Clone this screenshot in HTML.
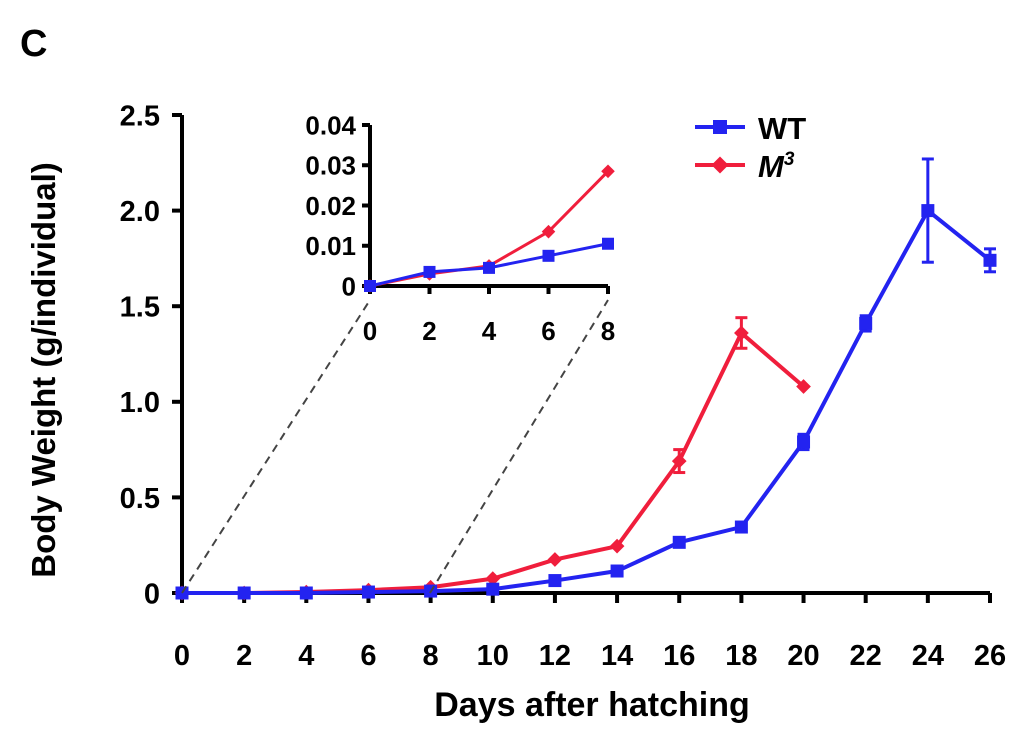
<!DOCTYPE html>
<html><head><meta charset="utf-8"><style>
body{margin:0;background:#fff;}
svg{display:block;font-family:"Liberation Sans",Arial,sans-serif;font-weight:bold;}
</style></head><body>
<svg id="chart" width="1024" height="734" viewBox="0 0 1024 734">
<text x="20" y="56" font-size="38">C</text>
<g id="main"></g>
<g id="inset"></g>
<text x="592" y="716" font-size="34" text-anchor="middle">Days after hatching</text>
<text transform="translate(55,370) rotate(-90)" font-size="33" text-anchor="middle">Body Weight (g/individual)</text>
<g>
<g>
<line x1="695" y1="127" x2="745" y2="127" stroke="#2323f0" stroke-width="4"/>
<rect x="713" y="120" width="14" height="14" fill="#2323f0"/>
<text x="758" y="139" font-size="31">WT</text></g>
<g>
<line x1="695" y1="165" x2="745" y2="165" stroke="#f01e3c" stroke-width="4"/>
<rect x="714" y="159" width="12" height="12" fill="#f01e3c" transform="rotate(45 720 165)"/>
<text x="758" y="177" font-size="31" font-style="italic">M<tspan font-size="19" dy="-12">3</tspan></text></g>
</g>
<line x1="182" y1="593" x2="370" y2="300" stroke="#444" stroke-width="2" stroke-dasharray="8,6"/>
<line x1="430" y1="593" x2="608" y2="300" stroke="#444" stroke-width="2" stroke-dasharray="8,6"/>
</svg>
<script>
const days=[0,2,4,6,8,10,12,14,16,18,20,22,24,26];
const wt=[0,0,0,0.005,0.01,0.02,0.065,0.115,0.265,0.345,0.79,1.41,2.0,1.74];
const wtErr=[0,0,0,0,0,0,0,0,0.02,0.02,0.04,0.04,0.27,0.06];
const m3=[0,0,0.005,0.015,0.03,0.075,0.175,0.245,0.69,1.36,1.08];
const m3Err=[0,0,0,0,0,0,0,0,0.06,0.08,0];
const yTicks=[0,0.5,1.0,1.5,2.0,2.5];
const yTickLabels=["0","0.5","1.0","1.5","2.0","2.5"];
const xTicks=[0,2,4,6,8,10,12,14,16,18,20,22,24,26];
const insetDays=[0,2,4,6,8];
const insetWt=[0,0.0035,0.0045,0.0075,0.0105];
const insetM3=[0,0.003,0.005,0.0135,0.0285];
const insetYTicks=[0,0.01,0.02,0.03,0.04];
const insetYLabels=["0","0.01","0.02","0.03","0.04"];
const NS="http://www.w3.org/2000/svg";
function mk(p,t,a){const e=document.createElementNS(NS,t);for(const k in a)e.setAttribute(k,a[k]);p.appendChild(e);return e;}
function plot(g,o){
  const X=v=>o.x0+(v-o.xmin)/(o.xmax-o.xmin)*(o.x1-o.x0);
  const Y=v=>o.y0-(v-o.ymin)/(o.ymax-o.ymin)*(o.y0-o.y1);
  let e=mk(g,'line',{x1:o.x0,y1:o.y0,x2:o.x0,y2:o.y1,stroke:'#000','stroke-width':o.aw});
  
  e=mk(g,'line',{x1:o.x0,y1:o.y0,x2:o.x1,y2:o.y0,stroke:'#000','stroke-width':o.aw});
  
  o.yt.forEach((v,i)=>{
    mk(g,'line',{x1:o.x0-o.tl,y1:Y(v),x2:o.x0,y2:Y(v),stroke:'#000','stroke-width':o.aw});
    const t=mk(g,'text',{x:o.x0-o.tl-o.ylg,y:Y(v)+o.fs*0.36,'font-size':o.fs,'text-anchor':'end'});t.textContent=o.yl[i];
    
    
  });
  o.xt.forEach(v=>{
    mk(g,'line',{x1:X(v),y1:o.y0,x2:X(v),y2:o.y0+o.tl,stroke:'#000','stroke-width':o.aw});
    const t=mk(g,'text',{x:X(v),y:o.y0+o.xoff,'font-size':o.fs,'text-anchor':'middle'});t.textContent=String(v);
    
    
  });
  o.series.forEach(s=>{
    const pts=s.y.map((v,i)=>X(o.xs[i])+','+Y(v)).join(' ');
    const l=mk(g,'polyline',{points:pts,fill:'none',stroke:s.c,'stroke-width':o.lw});
    
    
    s.y.forEach((v,i)=>{
      const cx=X(o.xs[i]),cy=Y(v),err=s.e?s.e[i]:0;
      if(err>0){mk(g,'line',{x1:cx,y1:Y(v-err),x2:cx,y2:Y(v+err),stroke:s.c,'stroke-width':3});
        mk(g,'line',{x1:cx-6,y1:Y(v-err),x2:cx+6,y2:Y(v-err),stroke:s.c,'stroke-width':3});
        mk(g,'line',{x1:cx-6,y1:Y(v+err),x2:cx+6,y2:Y(v+err),stroke:s.c,'stroke-width':3});}
      const m=s.sq?mk(g,'rect',{x:cx-o.ms/2,y:cy-o.ms/2,width:o.ms,height:o.ms,fill:s.c})
        :mk(g,'rect',{x:cx-o.ms*0.4,y:cy-o.ms*0.4,width:o.ms*0.8,height:o.ms*0.8,fill:s.c,transform:`rotate(45 ${cx} ${cy})`});
      
      
    });
  });
}
plot(document.getElementById('main'),{x0:182,x1:990,y0:593,y1:115,xmin:0,xmax:26,ymin:0,ymax:2.5,
  yt:yTicks,yl:yTickLabels,xt:xTicks,fs:29,tl:10,ylg:12,xoff:72,aw:4,lw:4,ms:13,xs:days,
  series:[{y:m3,e:m3Err,c:'#f01e3c',n:'m3',sq:false},{y:wt,e:wtErr,c:'#2323f0',n:'wt',sq:true}]});
plot(document.getElementById('inset'),{x0:370,x1:608,y0:286,y1:125,xmin:0,xmax:8,ymin:0,ymax:0.04,
  yt:insetYTicks,yl:insetYLabels,xt:insetDays,fs:26,tl:8,ylg:6,xoff:54,aw:4,lw:3,ms:12,xs:insetDays,
  series:[{y:insetM3,c:'#f01e3c',n:'inset-m3',sq:false},{y:insetWt,c:'#2323f0',n:'inset-wt',sq:true}]});
</script>
</body></html>
